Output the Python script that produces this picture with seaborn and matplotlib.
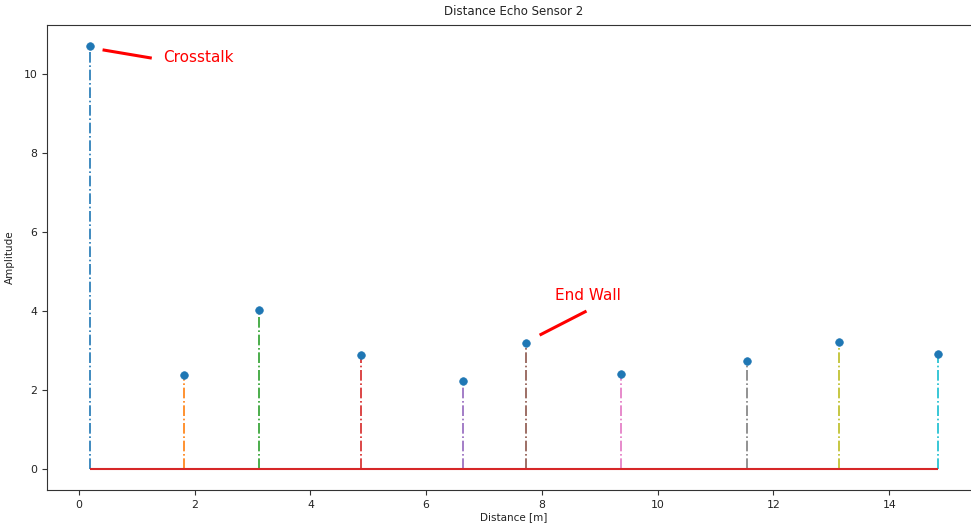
import matplotlib
matplotlib.use("Agg")
import matplotlib.pyplot as plt
import seaborn as sns
import pandas as pd

# Echo distances (m) and amplitudes for sensor 2
distance = [0.19, 1.81, 3.11, 4.87, 6.63, 7.72, 9.36, 11.55, 13.14, 14.84]
amplitude = [10.71, 2.37, 4.03, 2.88, 2.24, 3.19, 2.40, 2.73, 3.21, 2.91]
x_ticks = [0, 2, 4, 6, 8, 10, 12, 14]
y_ticks = [0, 2, 4, 6, 8, 10]

df = pd.DataFrame({"Distance": distance, "Amplitude": amplitude})

sns.set_theme(style="ticks")
plt.rcParams["font.family"] = ["DejaVu Sans"]
palette = sns.color_palette("tab10", len(distance))

fig = plt.figure(figsize=(9.71, 5.27), dpi=100)
ax = fig.add_axes([0.0484, 0.0702, 0.961, 0.8824])

# stems, one colour per echo
for i, (xv, yv) in enumerate(zip(distance, amplitude)):
    ax.vlines(xv, 0, yv, colors=[palette[i]], linestyles="-.", linewidth=1.2, zorder=2)

# baseline
ax.hlines(0, distance[0], distance[-1], colors=[palette[3]], linewidth=1.5, zorder=2.5)

# markers
sns.scatterplot(data=df, x="Distance", y="Amplitude", ax=ax, color=palette[0],
                s=30, edgecolor=palette[0], linewidth=0.5, zorder=3)

ax.set_xlim(-0.55, 15.57)
ax.set_ylim(-0.535, 11.25)
ax.set_xticks(x_ticks)
ax.set_yticks(y_ticks)
ax.tick_params(labelsize=7.8, length=3.5, width=0.8, colors="#333333", labelcolor="#222222")
ax.spines["top"].set_visible(True)
ax.spines["right"].set_visible(False)
for s in ax.spines.values():
    s.set_linewidth(0.8)
    s.set_color("#333333")

ax.set_title("Distance Echo Sensor 2", fontsize=8.5, color="#222222", pad=7)
ax.set_xlabel("Distance [m]", fontsize=7.5, color="#222222", labelpad=2)
ax.set_ylabel("Amplitude", fontsize=7.5, color="#222222", labelpad=6)

# annotations
ax.plot([0.41, 1.26], [10.62, 10.41], color="red", lw=2.2, solid_capstyle="butt")
ax.text(1.45, 10.42, "Crosstalk", fontsize=11, color="red", va="center", ha="left")
ax.plot([7.96, 8.77], [3.39, 4.0], color="red", lw=2.2, solid_capstyle="butt")
ax.text(8.79, 4.39, "End Wall", fontsize=11, color="red", va="center", ha="center")

fig.savefig("out.png", dpi=100)
